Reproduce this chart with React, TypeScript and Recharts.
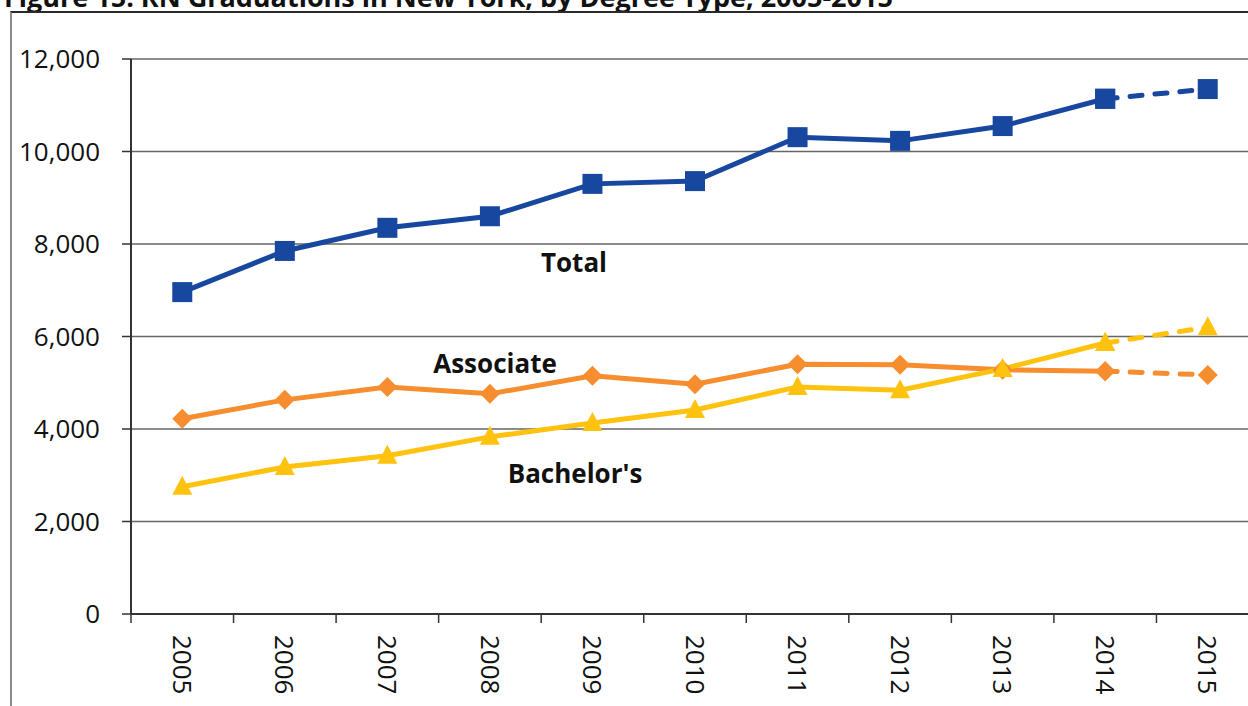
import { LineChart, Line, XAxis, YAxis, CartesianGrid, ReferenceDot } from 'recharts'

// values
const years = [2005, 2006, 2007, 2008, 2009, 2010, 2011, 2012, 2013, 2014, 2015]
const total = [6960, 7850, 8350, 8600, 9300, 9360, 10310, 10230, 10550, 11140, 11350]
const associate = [4220, 4630, 4910, 4760, 5150, 4970, 5400, 5390, 5280, 5250, 5170]
const bachelors = [2750, 3180, 3420, 3830, 4130, 4410, 4910, 4840, 5300, 5860, 6200]
const yTicks = [0, 2000, 4000, 6000, 8000, 10000, 12000]
const lastActual = 2014

const seriesLabels = [
  { text: 'Total', year: 2008.82, value: 7590 },
  { text: 'Associate', year: 2008.05, value: 5405 },
  { text: "Bachelor's", year: 2008.83, value: 3040 },
]

const BLUE = '#17479e'
const ORANGE = '#f68d2e'
const YELLOW = '#ffc20e'
const FONT = '"Open Sans", sans-serif'

const split = (vals: number[], i: number, proj: boolean) => {
  const y = years[i]
  if (proj) return y >= lastActual ? vals[i] : null
  return y <= lastActual ? vals[i] : null
}

const data = years.map((year, i) => ({
  year,
  total: split(total, i, false),
  totalP: split(total, i, true),
  assoc: split(associate, i, false),
  assocP: split(associate, i, true),
  bach: split(bachelors, i, false),
  bachP: split(bachelors, i, true),
}))

// boundaries between categories get a tick mark, centers get the label
const xTicks = [years[0] - 0.5, ...years.flatMap((y) => [y, y + 0.5])]

const squareDot = (color: string) => (p: any) => {
  if (p.cx == null || p.cy == null || p.value == null) return <g key={p.key} />
  return <rect key={p.key} x={p.cx - 10} y={p.cy - 10} width={20} height={20} fill={color} />
}

const diamondDot = (color: string) => (p: any) => {
  if (p.cx == null || p.cy == null || p.value == null) return <g key={p.key} />
  const { cx, cy } = p
  return (
    <polygon
      key={p.key}
      points={`${cx},${cy - 10} ${cx + 10},${cy} ${cx},${cy + 10} ${cx - 10},${cy}`}
      fill={color}
    />
  )
}

const triangleDot = (color: string) => (p: any) => {
  if (p.cx == null || p.cy == null || p.value == null) return <g key={p.key} />
  const { cx, cy } = p
  return (
    <polygon
      key={p.key}
      points={`${cx},${cy - 11} ${cx + 10},${cy + 8} ${cx - 10},${cy + 8}`}
      fill={color}
    />
  )
}

const XTick = (props: any) => {
  const { x, y, payload } = props
  const v = payload.value
  if (!Number.isInteger(v)) {
    return <line x1={x} y1={y} x2={x} y2={y + 9} stroke="#333" strokeWidth={1.5} />
  }
  return (
    <text
      x={x}
      y={y + 21}
      dy="0.36em"
      transform={`rotate(90, ${x}, ${y + 21})`}
      textAnchor="start"
      fontFamily={FONT}
      fontSize={26}
      fill="#111"
    >
      {v}
    </text>
  )
}

export default function App() {
  return (
    <div
      style={{
        position: 'absolute',
        left: 0,
        top: 0,
        width: 1248,
        height: 706,
        overflow: 'hidden',
        background: '#fff',
      }}
    >
      <div
        style={{
          position: 'absolute',
          left: 4,
          top: -17,
          fontFamily: FONT,
          fontWeight: 700,
          fontSize: 27,
          lineHeight: '27px',
          whiteSpace: 'nowrap',
          color: '#111',
        }}
      >
        Figure 15. RN Graduations in New York, by Degree Type, 2005-2015
      </div>
      <div
        style={{
          position: 'absolute',
          left: 10,
          top: 11,
          width: 1400,
          height: 800,
          borderLeft: '2px solid #8a8a8a',
          borderTop: '2px solid #2a2a2a',
        }}
      />
      <div style={{ position: 'absolute', left: 0, top: 0 }}>
        <LineChart
          width={1270}
          height={706}
          data={data}
          margin={{ top: 59, right: 11, left: 0, bottom: 0 }}
        >
          <CartesianGrid vertical={false} stroke="#666" strokeWidth={1.5} />
          <XAxis
            dataKey="year"
            type="number"
            domain={[years[0] - 0.5, years[years.length - 1] + 0.5]}
            ticks={xTicks}
            interval={0}
            tickLine={false}
            tickSize={0}
            tickMargin={0}
            height={92}
            axisLine={{ stroke: '#333', strokeWidth: 2 }}
            tick={<XTick />}
          />
          <YAxis
            domain={[0, 12000]}
            ticks={yTicks}
            width={131}
            tickSize={9}
            tickMargin={22}
            axisLine={{ stroke: '#333', strokeWidth: 2 }}
            tickLine={{ stroke: '#333', strokeWidth: 1.5 }}
            tick={{ fontFamily: FONT, fontSize: 26, fill: '#111' }}
            tickFormatter={(v: number) => v.toLocaleString('en-US')}
          />
          <Line
            dataKey="total"
            type="linear"
            stroke={BLUE}
            strokeWidth={5}
            dot={squareDot(BLUE)}
            activeDot={false}
            isAnimationActive={false}
          />
          <Line
            dataKey="totalP"
            type="linear"
            stroke={BLUE}
            strokeWidth={5}
            strokeDasharray="12 13"
            strokeLinecap="round"
            dot={squareDot(BLUE)}
            activeDot={false}
            isAnimationActive={false}
          />
          <Line
            dataKey="assoc"
            type="linear"
            stroke={ORANGE}
            strokeWidth={5}
            dot={diamondDot(ORANGE)}
            activeDot={false}
            isAnimationActive={false}
          />
          <Line
            dataKey="assocP"
            type="linear"
            stroke={ORANGE}
            strokeWidth={5}
            strokeDasharray="12 13"
            strokeLinecap="round"
            dot={diamondDot(ORANGE)}
            activeDot={false}
            isAnimationActive={false}
          />
          <Line
            dataKey="bach"
            type="linear"
            stroke={YELLOW}
            strokeWidth={5}
            dot={triangleDot(YELLOW)}
            activeDot={false}
            isAnimationActive={false}
          />
          <Line
            dataKey="bachP"
            type="linear"
            stroke={YELLOW}
            strokeWidth={5}
            strokeDasharray="12 13"
            strokeLinecap="round"
            dot={triangleDot(YELLOW)}
            activeDot={false}
            isAnimationActive={false}
          />
          {seriesLabels.map((l) => (
            <ReferenceDot
              key={l.text}
              x={l.year}
              y={l.value}
              r={0}
              fill="none"
              stroke="none"
              label={{
                value: l.text,
                position: 'center',
                fill: '#111',
                fontSize: 26,
                fontWeight: 700,
                fontFamily: FONT,
              }}
            />
          ))}
        </LineChart>
      </div>
    </div>
  )
}
